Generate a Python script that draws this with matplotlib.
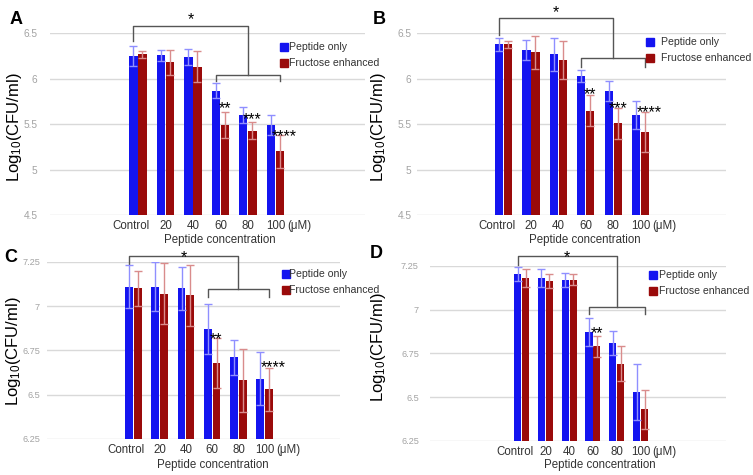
import matplotlib.pyplot as plt
from matplotlib.patches import Rectangle
from matplotlib.transforms import ScaledTranslation
import numpy as np

plt.rcParams['font.family'] = ['Liberation Sans', 'DejaVu Sans']
plt.rcParams['mathtext.default'] = 'regular'

# === Data ===
groups = ['Control', '20', '40', '60', '80', '100']
series_names = ['Peptide only', 'Fructose enhanced']

A_peptide = [6.25, 6.26, 6.24, 5.87, 5.60, 5.49]
A_peptide_err = [0.11, 0.06, 0.09, 0.08, 0.09, 0.11]
A_fructose = [6.27, 6.18, 6.13, 5.49, 5.43, 5.20]
A_fructose_err = [0.04, 0.14, 0.17, 0.14, 0.09, 0.18]

B_peptide = [6.38, 6.32, 6.27, 6.03, 5.87, 5.60]
B_peptide_err = [0.07, 0.11, 0.18, 0.07, 0.11, 0.15]
B_fructose = [6.38, 6.29, 6.21, 5.65, 5.51, 5.41]
B_fructose_err = [0.04, 0.18, 0.21, 0.17, 0.17, 0.22]

C_peptide = [7.11, 7.11, 7.10, 6.87, 6.71, 6.59]
C_peptide_err = [0.12, 0.14, 0.12, 0.14, 0.10, 0.15]
C_fructose = [7.10, 7.07, 7.06, 6.68, 6.58, 6.53]
C_fructose_err = [0.10, 0.17, 0.17, 0.14, 0.18, 0.12]

D_peptide = [7.20, 7.18, 7.17, 6.87, 6.81, 6.53]
D_peptide_err = [0.04, 0.05, 0.04, 0.08, 0.07, 0.16]
D_fructose = [7.18, 7.16, 7.17, 6.79, 6.69, 6.43]
D_fructose_err = [0.05, 0.04, 0.03, 0.06, 0.10, 0.11]

# significance marks: (group index, label)
A_marks = [(3, '**'), (4, '***'), (5, '****')]
B_marks = [(3, '**'), (4, '***'), (5, '****')]
C_marks = [(3, '**'), (5, '****')]
D_marks = [(3, '**')]

AB_yticks = [4.5, 5, 5.5, 6, 6.5]
AB_yticklabels = ['4.5', '5', '5.5', '6', '6.5']
CD_yticks = [6.25, 6.5, 6.75, 7, 7.25]
CD_yticklabels = ['6.25', '6.5', '6.75', '7', '7.25']

# === Layout (pixels in a 753x475 figure) ===
W, H = 753, 475
blue = '#1414f0'
red = '#9a0a0a'
light_blue = '#8f8fff'
light_red = '#d98c8c'
bw = 0.3
off = 0.165

panels = [
    dict(letter='A', pep=A_peptide, pep_err=A_peptide_err, fru=A_fructose, fru_err=A_fructose_err,
         marks=A_marks, mark_y=[5.73, 5.60, 5.42],
         ylim=(4.5, 6.5), yticks=AB_yticks, ytl=AB_yticklabels, ysize=7.3,
         box=(50, 33.3, 365, 215), xlim=(-3.2, 8.26), ypad=9,
         brk=(6.585, 6.41, 6.04, 5.975), star=6.71,
         letter_xy=(16, 19), ylab_xy=(14.2, 127.5), xlab_xy=(219.6, 240),
         leg=(280, 42.7, 289, 16.6)),
    dict(letter='B', pep=B_peptide, pep_err=B_peptide_err, fru=B_fructose, fru_err=B_fructose_err,
         marks=B_marks, mark_y=[5.88, 5.73, 5.68],
         ylim=(4.5, 6.5), yticks=AB_yticks, ytl=AB_yticklabels, ysize=7.3,
         box=(417, 33.3, 726, 215), xlim=(-3.16, 8.12), ypad=4,
         brk=(6.665, 6.48, 6.224, 6.132), star=6.787,
         letter_xy=(379, 19), ylab_xy=(379, 127.5), xlab_xy=(585, 240),
         leg=(646, 38.3, 661, 15.7)),
    dict(letter='C', pep=C_peptide, pep_err=C_peptide_err, fru=C_fructose, fru_err=C_fructose_err,
         marks=C_marks, mark_y=[6.84, 6.68],
         ylim=(6.25, 7.25), yticks=CD_yticks, ytl=CD_yticklabels, ysize=6.6,
         box=(47, 261.7, 340, 439), xlim=(-3.28, 7.86), ypad=5,
         brk=(7.282, 7.237, 7.094, 7.05), star=7.30,
         letter_xy=(11, 257), ylab_xy=(13.5, 351.5), xlab_xy=(213, 465),
         leg=(281.7, 270, 289, 15.7)),
    dict(letter='D', pep=D_peptide, pep_err=D_peptide_err, fru=D_fructose, fru_err=D_fructose_err,
         marks=D_marks, mark_y=[6.89],
         ylim=(6.25, 7.25), yticks=CD_yticks, ytl=CD_yticklabels, ysize=6.6,
         box=(430, 265.7, 726, 441), xlim=(-3.85, 8.59), ypad=8,
         brk=(7.305, 7.254, 7.016, 6.974), star=7.324,
         letter_xy=(376.5, 254), ylab_xy=(379, 347.5), xlab_xy=(600, 465),
         leg=(648.7, 271, 659.3, 15.7)),
]

fig = plt.figure(figsize=(W / 100, H / 100), dpi=100)
x = np.arange(len(groups))

for p in panels:
    l, t, r, b = p['box']
    ax = fig.add_axes([l / W, 1 - b / H, (r - l) / W, (b - t) / H])
    ax.set_ylim(*p['ylim'])
    ax.set_xlim(*p['xlim'])

    ax.bar(x - off, p['pep'], bw, color=blue, zorder=2)
    ax.bar(x + off, p['fru'], bw, color=red, zorder=2)
    ax.errorbar(x - off, p['pep'], yerr=p['pep_err'], fmt='none', ecolor=light_blue,
                elinewidth=1, capsize=3.2, capthick=1, zorder=3)
    ax.errorbar(x + off, p['fru'], yerr=p['fru_err'], fmt='none', ecolor=light_red,
                elinewidth=1, capsize=3.2, capthick=1, zorder=3)

    # brackets
    top, left_end, low, low_end = p['brk']
    mid = ((3 - off) + (5 + off)) / 2
    ax.plot([-off, -off, mid, mid], [left_end, top, top, low], color='#555555', lw=1, clip_on=False)
    ax.plot([3 - off, 3 - off, 5 + off, 5 + off], [low_end, low, low, low_end],
            color='#555555', lw=1, clip_on=False)
    ax.annotate('*', ((-off + mid) / 2, p['star']), xytext=(0, -6.8), textcoords='offset points',
                ha='center', va='baseline', fontsize=11.5, annotation_clip=False)
    for (i, s), yy in zip(p['marks'], p['mark_y']):
        dx = 0.15 if len(s) == 4 else 0
        ax.annotate(s, (i + off + dx, yy), xytext=(0, -6.8), textcoords='offset points',
                    ha='center', va='baseline', fontsize=11.5, annotation_clip=False)

    # axes styling
    for sp in ax.spines.values():
        sp.set_visible(False)
    ax.yaxis.grid(True, color='#d9d9d9', lw=1)
    ax.set_axisbelow(True)
    ax.set_yticks(p['yticks'])
    ax.set_yticklabels(p['ytl'])
    ax.set_xticks(x)
    ax.set_xticklabels(groups)
    ax.tick_params(axis='y', length=0, pad=p['ypad'], labelsize=p['ysize'], labelcolor='#a3a3a3')
    ax.tick_params(axis='x', length=0, pad=3.5, labelsize=8.3, labelcolor='#333333')
    # "Control" sits a little left of its bar pair in the original
    ctl = ax.get_xticklabels()[0]
    ctl.set_transform(ctl.get_transform() + ScaledTranslation(-0.07, 0, fig.dpi_scale_trans))
    ax.annotate('(μM)', (5, 0), xycoords=ax.get_xaxis_transform(), xytext=(8.5, -3.5),
                textcoords='offset points', ha='left', va='top', fontsize=8.3, color='#333333')

    ax.set_ylabel('Log$_{10}$(CFU/ml)', fontsize=12, va='center')
    ax.yaxis.set_label_coords(p['ylab_xy'][0] / W, 1 - p['ylab_xy'][1] / H, transform=fig.transFigure)
    ax.set_xlabel('Peptide concentration', fontsize=8.3, color='#333333', va='center')
    ax.xaxis.set_label_coords(p['xlab_xy'][0] / W, 1 - p['xlab_xy'][1] / H, transform=fig.transFigure)

    fig.text(p['letter_xy'][0] / W, 1 - p['letter_xy'][1] / H, p['letter'], fontsize=13,
             fontweight='bold', ha='center', va='center')

    # legend
    sx, sy, tx, step = p['leg']
    for k, (name, col) in enumerate(zip(series_names, [blue, red])):
        yy = sy + k * step
        fig.add_artist(Rectangle((sx / W, 1 - (yy + 8) / H), 8 / W, 8 / H,
                                 transform=fig.transFigure, color=col))
        fig.text(tx / W, 1 - (yy + 4) / H, name, fontsize=7.6, color='#333333',
                 ha='left', va='center')

fig.savefig('out.png', dpi=100)
